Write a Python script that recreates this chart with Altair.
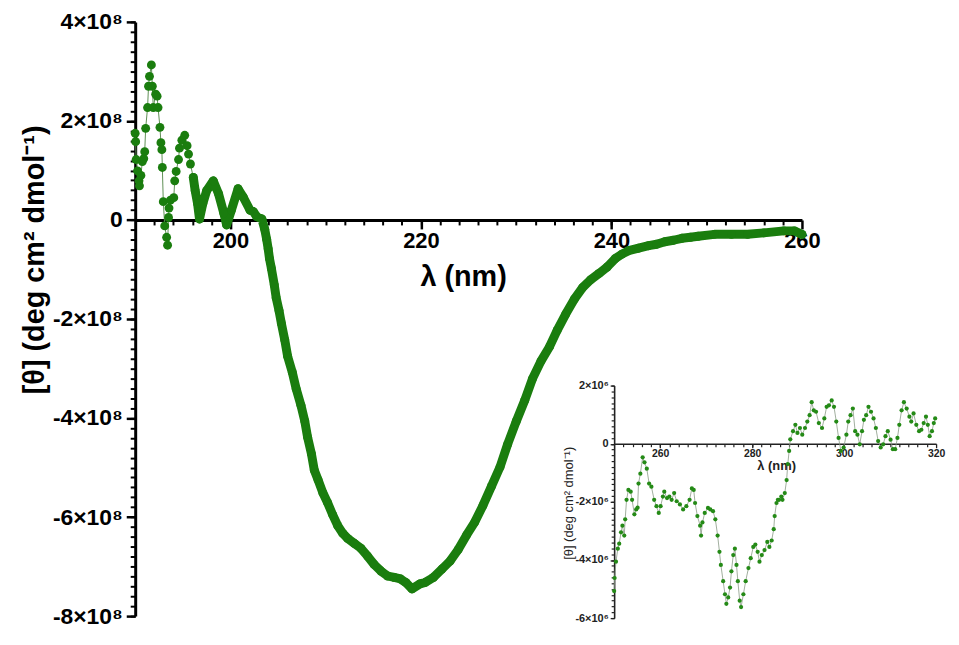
import altair as alt
import pandas as pd

# ---------------- data ----------------
# main spectrum, noisy far-UV start: wavelength (nm), [theta] in 1e8 deg cm2 dmol-1
noisy_wl = [190.0, 190.05, 190.1, 190.25, 190.4, 190.45, 190.6, 190.75, 190.9, 191.0,
            191.1, 191.3, 191.4, 191.5, 191.7, 191.8, 191.9, 192.15, 192.3, 192.4,
            192.6, 192.7, 192.8, 192.85, 192.95, 193.1, 193.3, 193.4, 193.5, 193.55,
            193.7, 194.05, 194.15, 194.3, 194.55, 194.65, 194.9, 195.2, 195.45, 195.6,
            195.8]
noisy_theta = [1.75, 1.58, 1.22, 0.99, 0.79, 0.69, 0.90, 1.18, 1.24, 1.38,
               1.85, 2.27, 2.70, 2.90, 3.13, 2.70, 2.27, 2.54, 2.50, 2.27,
               1.87, 1.56, 1.42, 1.06, 0.37, -0.12, -0.35, -0.51, 0.05, 0.24,
               0.40, 0.45, 0.79, 0.98, 1.22, 1.45, 1.61, 1.71, 1.50, 1.33,
               1.13]
# main spectrum, dense part
smooth_wl = [196.1, 196.3, 196.55, 196.75, 197.1, 197.5, 198.2, 198.75, 199.3, 199.6,
             200.1, 200.8, 201.35, 202.05, 202.4, 202.75, 203.3, 203.6, 203.8, 203.96,
             204.1, 204.3, 204.6, 204.8, 205.1, 205.35, 205.7, 206.0, 206.5, 206.9,
             207.4, 207.8, 208.1, 208.5, 208.8, 209.2, 209.7, 210.2, 210.7, 211.25,
             211.8, 212.3, 213.0, 213.7, 214.4, 215.1, 215.8, 216.5, 217.2, 217.85,
             218.4, 219.06, 219.9, 220.45, 221.3, 222.2, 223.05, 223.9, 224.8, 225.65,
             226.5, 227.4, 228.3, 229.1, 230.0, 230.9, 231.7, 232.6, 233.5, 234.3,
             235.2, 236.1, 236.95, 237.8, 238.7, 239.55, 240.4, 241.1, 241.8, 242.85,
             243.9, 244.75, 245.6, 246.5, 247.4, 248.3, 249.1, 250.8, 252.6, 254.3,
             256.0, 258.1, 259.2, 260.0]
smooth_theta = [0.86, 0.59, 0.33, 0.02, 0.33, 0.59, 0.79, 0.53, 0.14, -0.10,
                0.20, 0.63, 0.46, 0.20, 0.17, 0.07, 0.02, -0.19, -0.39, -0.58,
                -0.78, -0.98, -1.31, -1.57, -1.83, -2.09, -2.42, -2.75, -3.08, -3.41,
                -3.74, -4.06, -4.39, -4.72, -5.05, -5.25, -5.51, -5.71, -5.94, -6.17,
                -6.33, -6.43, -6.53, -6.63, -6.79, -6.96, -7.09, -7.19, -7.22, -7.25,
                -7.32, -7.45, -7.35, -7.32, -7.22, -7.05, -6.89, -6.66, -6.36, -6.10,
                -5.77, -5.38, -4.99, -4.53, -4.07, -3.64, -3.21, -2.85, -2.56, -2.23,
                -1.90, -1.60, -1.37, -1.21, -1.08, -0.95, -0.78, -0.69, -0.62, -0.57,
                -0.52, -0.49, -0.44, -0.41, -0.37, -0.35, -0.33, -0.29, -0.29, -0.29,
                -0.26, -0.22, -0.22, -0.29]

# inset spectrum: wavelength (nm), [theta] in 1e6 deg cm2 dmol-1
inset_wl = [250.0, 250.1, 250.4, 250.8, 251.1, 251.5, 251.8, 252.2, 252.4, 252.7,
            253.1, 253.6, 253.9, 254.4, 254.8, 255.1, 255.3, 255.7, 256.2, 256.6,
            257.1, 257.6, 258.1, 258.7, 259.2, 259.7, 260.1, 260.6, 260.9, 261.5,
            262.0, 262.5, 263.05, 263.6, 264.3, 265.0, 265.7, 266.4, 266.9, 267.3,
            267.6, 268.1, 268.7, 268.9, 269.2, 269.7, 270.4, 270.9, 271.5, 272.0,
            272.5, 272.9, 273.2, 273.7, 274.1, 274.4, 274.8, 275.2, 275.5, 275.9,
            276.25, 276.6, 276.9, 277.3, 277.6, 278.1, 278.6, 279.2, 279.7, 280.25,
            280.7, 281.2, 281.6, 282.1, 282.7, 283.3, 283.75, 284.25, 284.7, 284.9,
            285.3, 285.6, 285.85, 286.35, 286.6, 287.1, 287.5, 287.75, 288.05, 288.3,
            288.9, 289.4, 289.85, 290.4, 290.9, 291.5, 292.0, 292.5, 292.95, 293.4,
            293.9, 294.5, 295.2, 295.7, 296.2, 296.7, 297.3, 297.8, 298.3, 298.8,
            299.3, 299.9, 300.5, 300.9, 301.4, 301.9, 302.4, 302.9, 303.4, 303.9,
            304.3, 304.8, 305.3, 305.85, 306.4, 306.9, 307.4, 307.95, 308.5, 309.0,
            309.5, 310.1, 310.6, 311.1, 311.6, 312.0, 312.5, 313.0, 313.6, 314.2,
            314.6, 315.1, 315.7, 316.3, 316.8, 317.3, 317.8, 318.2, 318.6, 319.1,
            319.5, 319.8]
inset_theta = [-5.07, -4.62, -4.06, -3.61, -3.44, -3.05, -2.82, -3.16, -2.60, -1.93,
               -1.59, -1.65, -1.93, -2.43, -2.26, -2.20, -1.37, -1.03, -0.47, -0.64,
               -0.86, -1.37, -1.48, -1.93, -2.15, -2.38, -2.15, -1.82, -1.65, -1.87,
               -1.82, -1.93, -1.70, -1.98, -2.09, -2.26, -2.15, -1.93, -1.54, -1.59,
               -2.04, -2.49, -2.82, -3.16, -2.71, -2.38, -2.21, -2.26, -2.32, -2.60,
               -3.16, -3.72, -4.17, -4.73, -5.18, -5.51, -5.29, -4.95, -4.39, -3.83,
               -3.61, -4.17, -4.73, -5.40, -5.62, -5.18, -4.73, -4.28, -3.94, -3.55,
               -3.47, -3.72, -4.06, -3.83, -3.66, -3.38, -3.55, -3.33, -2.94, -2.49,
               -2.04, -1.93, -1.93, -1.82, -1.93, -1.70, -1.25, -0.70, -0.25, 0.15,
               0.43, 0.65, 0.37, 0.54, 0.31, 0.54, 0.76, 0.98, 1.43, 1.15,
               1.10, 0.71, 0.54, 0.87, 1.27, 1.32, 1.49, 1.27, 0.76, 0.20,
               -0.25, -0.13, 0.31, 0.76, 0.98, 1.21, 0.43, 0.31, -0.02, 0.43,
               0.82, 0.98, 1.27, 1.10, 0.87, 0.54, 0.09, -0.13, -0.02, 0.26,
               0.43, 0.14, -0.19, -0.19, 0.20, 0.65, 1.15, 1.43, 1.21, 0.93,
               0.76, 1.04, 0.65, 0.43, 0.48, 0.71, 0.93, 0.65, 0.26, 0.43,
               0.71, 0.87]

main_major_x = [200, 220, 240, 260]
main_major_y = [-8, -6, -4, -2, 0, 2, 4]
inset_major_x = [260, 280, 300, 320]
inset_major_y = [-6, -4, -2, 0, 2]

# ---------------- tables ----------------
main_df = pd.DataFrame({"wl": noisy_wl + smooth_wl, "theta": noisy_theta + smooth_theta})
smooth_df = pd.DataFrame({"wl": smooth_wl, "theta": smooth_theta})
inset_df = pd.DataFrame({"wl": inset_wl, "theta": inset_theta})

W, H = 671, 598
GREEN = "#1a7d0e"
THIN = "#5f8f55"
FONT = "Liberation Sans"


def mx():
    return alt.Scale(domain=[190, 260], range=[0, W], nice=False, zero=False)


def my():
    return alt.Scale(domain=[-8, 4], range=[H, 0], nice=False, zero=False)


# inset scales placed in the lower right of the same area
IX0, IX1 = 482, 806
IY0, IY1 = 600, 366


def ix():
    return alt.Scale(domain=[250, 320], range=[IX0, IX1], nice=False, zero=False)


def iy():
    return alt.Scale(domain=[-6, 2], range=[IY0, IY1], nice=False, zero=False)


main_zero_off = -(H - H * 4 / 12)           # x axis drawn at theta = 0
inset_zero_off = -(H - (IY0 - (IY0 - IY1) * 6 / 8))

# ---------------- main axes ----------------
main_x_axis = alt.Axis(orient="bottom", offset=main_zero_off, values=main_major_x,
                       grid=False, domainColor="black", domainWidth=3,
                       tickColor="black", tickWidth=2.5, tickSize=9,
                       labelFont=FONT, labelFontSize=22, labelFontWeight="bold",
                       labelColor="black", labelPadding=2, labelFlush=False,
                       labelOverlap=False,
                       title="λ (nm)", titleFont=FONT, titleFontSize=29,
                       titleFontWeight="bold", titleColor="black",
                       titleX=330, titleY=57, titleAlign="center",
                       titleBaseline="middle")
main_y_axis = alt.Axis(orient="left", values=main_major_y, grid=False,
                       labelExpr="datum.value == 0 ? '0' : datum.value + '×10⁸'",
                       domainColor="black", domainWidth=3,
                       tickColor="black", tickWidth=2.5, tickSize=9,
                       labelFont=FONT, labelFontSize=23, labelFontWeight="bold",
                       labelColor="black", labelPadding=4, labelFlush=False,
                       labelOverlap=False,
                       title="[θ] (deg cm² dmol⁻¹)", titleFont=FONT,
                       titleFontSize=29, titleFontWeight="bold", titleColor="black",
                       titleX=-101, titleY=239, titleAngle=270, titleAlign="center",
                       titleBaseline="middle")
main_x_minor = alt.Axis(orient="bottom", offset=main_zero_off,
                        values=list(range(192, 260, 2)), grid=False, labels=False,
                        domain=False, tickColor="black", tickWidth=2, tickSize=5,
                        title=None)
main_y_minor = alt.Axis(orient="left", values=[round(v * 0.2, 1) for v in range(-40, 21)],
                        grid=False, labels=False, domain=False, tickColor="black",
                        tickWidth=2, tickSize=5, title=None)

# ---------------- inset axes ----------------
inset_x_axis = alt.Axis(orient="bottom", offset=inset_zero_off, values=inset_major_x,
                        grid=False, domainColor="#222222", domainWidth=1.6,
                        tickColor="#222222", tickWidth=1.3, tickSize=4,
                        labelFont=FONT, labelFontSize=10.5, labelFontWeight="bold",
                        labelColor="#222222", labelPadding=1, labelFlush=False,
                        labelOverlap=False,
                        title="λ (nm)", titleFont=FONT, titleFontSize=13,
                        titleFontWeight="bold", titleColor="#222222",
                        titleX=645, titleY=22, titleAlign="center",
                        titleBaseline="middle")
inset_y_axis = alt.Axis(orient="left", offset=-IX0, values=inset_major_y, grid=False,
                        labelExpr="datum.value == 0 ? '0' : datum.value + '×10⁶'",
                        domainColor="#222222", domainWidth=1.6,
                        tickColor="#222222", tickWidth=1.3, tickSize=4,
                        labelFont=FONT, labelFontSize=11, labelFontWeight="bold",
                        labelColor="#222222", labelPadding=2, labelFlush=False,
                        labelOverlap=False,
                        title="[θ] (deg cm² dmol⁻¹)", titleFont=FONT,
                        titleFontSize=13, titleFontWeight="normal",
                        titleColor="#222222", titleX=-46, titleY=484,
                        titleAngle=270, titleAlign="center", titleBaseline="middle")
inset_x_minor = alt.Axis(orient="bottom", offset=inset_zero_off,
                         values=list(range(252, 320, 2)), grid=False, labels=False,
                         domain=False, tickColor="#222222", tickWidth=1.2,
                         tickSize=3, title=None)
inset_y_minor = alt.Axis(orient="left", offset=-IX0,
                         values=[round(v * 0.2, 1) for v in range(-30, 11)],
                         grid=False, labels=False, domain=False,
                         tickColor="#222222", tickWidth=1.2, tickSize=3, title=None)

# ---------------- layers ----------------
main_thin = alt.Chart(main_df).mark_line(color=THIN, strokeWidth=1, clip=False).encode(
    x=alt.X("wl:Q", scale=mx(), axis=main_x_axis),
    y=alt.Y("theta:Q", scale=my(), axis=main_y_axis),
    order="wl:Q")
main_thick = alt.Chart(smooth_df).mark_line(color=GREEN, strokeWidth=9,
                                            strokeCap="round", strokeJoin="round",
                                            clip=False).encode(
    x=alt.X("wl:Q", scale=mx(), axis=None),
    y=alt.Y("theta:Q", scale=my(), axis=None),
    order="wl:Q")
main_pts = alt.Chart(main_df).mark_circle(color=GREEN, size=80, opacity=1,
                                          clip=False).encode(
    x=alt.X("wl:Q", scale=mx(), axis=None),
    y=alt.Y("theta:Q", scale=my(), axis=None))
main_minor = alt.Chart(main_df).mark_point(opacity=0, size=1).encode(
    x=alt.X("wl:Q", scale=mx(), axis=main_x_minor),
    y=alt.Y("theta:Q", scale=my(), axis=main_y_minor))

inset_line = alt.Chart(inset_df).mark_line(color="#8a9a86", strokeWidth=0.8,
                                           clip=False).encode(
    x=alt.X("wl:Q", scale=ix(), axis=inset_x_axis),
    y=alt.Y("theta:Q", scale=iy(), axis=inset_y_axis),
    order="wl:Q")
inset_pts = alt.Chart(inset_df).mark_circle(color="#248a16", size=18, opacity=1,
                                            clip=False).encode(
    x=alt.X("wl:Q", scale=ix(), axis=None),
    y=alt.Y("theta:Q", scale=iy(), axis=None))
inset_minor = alt.Chart(inset_df).mark_point(opacity=0, size=1).encode(
    x=alt.X("wl:Q", scale=ix(), axis=inset_x_minor),
    y=alt.Y("theta:Q", scale=iy(), axis=inset_y_minor))

chart = alt.layer(
    main_minor, main_thin, main_thick, main_pts,
    inset_minor, inset_line, inset_pts
).resolve_scale(
    x="independent", y="independent"
).resolve_axis(
    x="independent", y="independent"
).properties(
    width=W, height=H,
    autosize=alt.AutoSizeParams(type="none"),
    padding={"left": 128, "top": 12, "right": 150, "bottom": 12},
    background="white"
).configure_view(strokeWidth=0)

chart.save("out.html", embed_options={"renderer": "svg", "actions": False})
